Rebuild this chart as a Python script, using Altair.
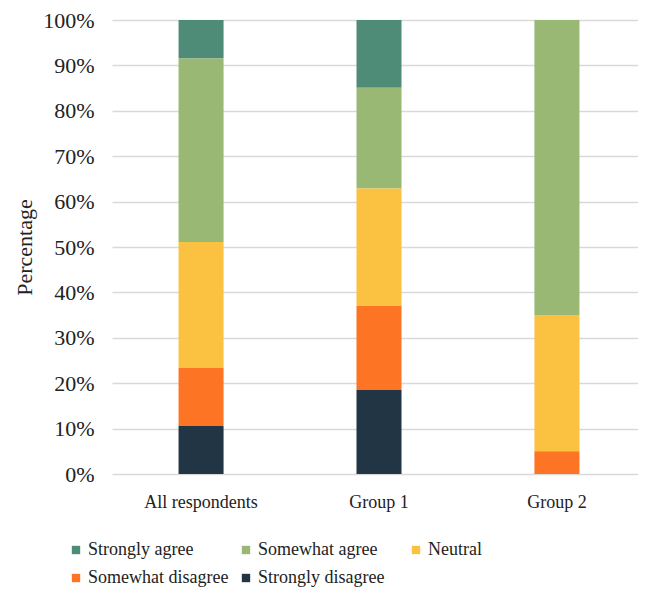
import altair as alt
import pandas as pd

groups = ["All respondents", "Group 1", "Group 2"]
responses = ["Strongly agree", "Somewhat agree", "Neutral", "Somewhat disagree", "Strongly disagree"]
colors = ["#4f8c78", "#98b874", "#fbc140", "#fd7524", "#213544"]
stack_rank = [4, 3, 2, 1, 0]

# percentages per response, in the order of `responses`
all_resp = [8.5, 40.4, 27.7, 12.8, 10.6]
group1 = [14.9, 22.2, 25.9, 18.5, 18.5]
group2 = [0.0, 65.0, 30.0, 5.0, 0.0]

rows = []
for g, vals in zip(groups, [all_resp, group1, group2]):
    for r, v, k in zip(responses, vals, stack_rank):
        rows.append({"group": g, "response": r, "value": v, "rank": k})
df = pd.DataFrame(rows)

FONT = "Liberation Serif"

chart = alt.Chart(df).mark_bar().encode(
    x=alt.X("group:N", sort=groups, title=None,
            scale=alt.Scale(paddingInner=0.747, paddingOuter=0.374, range=[0, 534]),
            axis=alt.Axis(labelAngle=0, labelFontSize=18, labelPadding=19, ticks=False,
                          tickSize=0, domain=False, grid=False, labelColor="#222",
                          labelFont=FONT)),
    y=alt.Y("value:Q", stack="normalize", title="Percentage",
            scale=alt.Scale(domain=[0, 1], nice=False),
            axis=alt.Axis(format=".0%", values=[i / 10 for i in range(11)],
                          labelFontSize=22, labelPadding=18, ticks=False, tickSize=0,
                          domain=False, gridColor="#d9d9d9", gridWidth=1.5,
                          labelColor="#222", labelFont=FONT,
                          titleFont=FONT, titleFontSize=22, titleFontWeight="normal",
                          titleColor="#222", titleX=-88, titleBaseline="middle")),
    color=alt.Color("response:N", sort=responses,
                    scale=alt.Scale(domain=responses, range=colors),
                    legend=alt.Legend(title=None, orient="none", legendX=-45, legendY=521,
                                      columns=3, direction="horizontal", gridAlign="all",
                                      columnPadding=8, rowPadding=10,
                                      symbolType="square", symbolSize=70,
                                      symbolStrokeWidth=0, labelFontSize=18, labelFont=FONT,
                                      labelColor="#222", labelOffset=3, padding=0,
                                      labelLimit=300)),
    order=alt.Order("rank:Q", sort="ascending"),
).properties(
    width=526, height=454,
    autosize=alt.AutoSizeParams(type="none"),
    padding={"left": 104, "top": 12, "right": 0, "bottom": 120},
).configure_view(stroke=None)

chart.save("out.html", embed_options={"renderer": "svg", "actions": False})
